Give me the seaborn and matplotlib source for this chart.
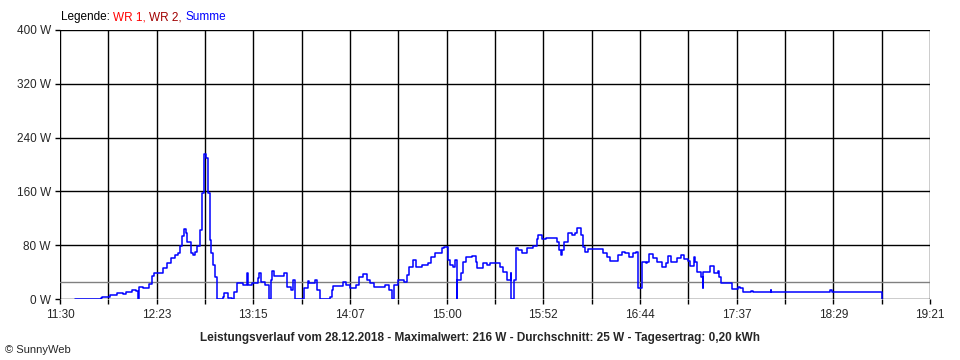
import matplotlib
matplotlib.use("Agg")
import matplotlib.pyplot as plt
import seaborn as sns
import numpy as np
import pandas as pd

# readings (time of day, watts)
times = ["11:38", "11:46", "11:52", "11:53", "11:57", "12:01", "12:04", "12:06", "12:09", "12:11",
         "12:12", "12:12", "12:13", "12:15", "12:18", "12:20", "12:21", "12:24", "12:26", "12:28",
         "12:30", "12:32", "12:34", "12:35", "12:36", "12:37", "12:38", "12:39", "12:41", "12:42",
         "12:43", "12:44", "12:46", "12:47", "12:47", "12:48", "12:48", "12:49", "12:50", "12:50",
         "12:51", "12:52", "12:53", "12:54", "12:55", "12:55", "12:57", "12:58", "12:59", "13:01",
         "13:03", "13:04", "13:06", "13:07", "13:09", "13:11", "13:12", "13:14", "13:16", "13:17",
         "13:18", "13:19", "13:21", "13:23", "13:24", "13:25", "13:26", "13:30", "13:31", "13:33",
         "13:35", "13:36", "13:37", "13:41", "13:42", "13:44", "13:45", "13:48", "13:49", "13:51",
         "13:55", "13:56", "13:57", "13:58", "14:00", "14:03", "14:05", "14:07", "14:10", "14:12",
         "14:14", "14:16", "14:18", "14:20", "14:26", "14:28", "14:30", "14:30", "14:31", "14:33",
         "14:36", "14:38", "14:39", "14:41", "14:43", "14:46", "14:49", "14:51", "14:53", "14:55",
         "14:57", "14:58", "15:00", "15:00", "15:01", "15:03", "15:04", "15:05", "15:05", "15:07",
         "15:08", "15:08", "15:10", "15:13", "15:15", "15:16", "15:18", "15:19", "15:21", "15:23",
         "15:27", "15:28", "15:30", "15:32", "15:34", "15:34", "15:35", "15:36", "15:37", "15:38",
         "15:40", "15:43", "15:46", "15:48", "15:49", "15:51", "15:53", "15:57", "15:59", "16:00",
         "16:01", "16:02", "16:03", "16:05", "16:07", "16:09", "16:10", "16:12", "16:13", "16:14",
         "16:16", "16:22", "16:24", "16:26", "16:28", "16:29", "16:32", "16:34", "16:36", "16:38",
         "16:40", "16:42", "16:43", "16:43", "16:45", "16:47", "16:48", "16:49", "16:51", "16:53",
         "16:56", "16:58", "16:59", "17:01", "17:03", "17:04", "17:06", "17:08", "17:10", "17:11",
         "17:13", "17:14", "17:15", "17:17", "17:18", "17:18", "17:20", "17:22", "17:24", "17:26",
         "17:27", "17:28", "17:32", "17:34", "17:34", "17:37", "17:38", "17:40", "17:44", "17:45",
         "17:49", "17:55", "17:55", "18:11", "18:27", "18:28", "18:43", "18:51", "18:55", "18:55"]
watts = [0, 0, 1, 3, 6, 9, 8, 10, 13, 12,
         7, 0, 18, 16, 22, 34, 39, 39, 46, 54,
         61, 65, 68, 79, 94, 104, 98, 85, 68, 65,
         70, 79, 103, 117, 157, 210, 216, 210, 187, 157,
         88, 68, 51, 33, 9, 0, 0, 3, 9, 1,
         0, 10, 24, 24, 21, 39, 21, 24, 24, 31,
         39, 25, 21, 0, 28, 42, 34, 34, 39, 18,
         13, 28, 0, 0, 16, 27, 24, 28, 13, 0,
         0, 3, 13, 19, 19, 25, 21, 16, 21, 33,
         37, 28, 24, 18, 21, 13, 6, 0, 21, 28,
         25, 36, 48, 58, 48, 51, 54, 62, 68, 68,
         76, 77, 70, 58, 51, 48, 58, 0, 28, 39,
         48, 55, 62, 64, 55, 46, 46, 54, 51, 54,
         54, 48, 40, 28, 39, 0, 0, 28, 76, 73,
         68, 76, 79, 89, 95, 89, 91, 91, 85, 73,
         65, 73, 85, 98, 95, 98, 106, 95, 77, 70,
         74, 74, 68, 62, 57, 57, 65, 70, 68, 62,
         68, 70, 33, 16, 55, 54, 55, 67, 61, 55,
         48, 54, 64, 55, 55, 61, 65, 60, 57, 49,
         62, 55, 40, 33, 16, 40, 40, 49, 39, 42,
         33, 24, 24, 21, 15, 18, 16, 10, 12, 10,
         11, 14, 10, 10, 14, 10, 10, 11, 10, 0]

tick_labels = ["11:30", "12:23", "13:15", "14:07", "15:00", "15:52", "16:44", "17:37", "18:29", "19:21"]
y_ticks = [0, 80, 160, 240, 320, 400]
average = 25
title = "Leistungsverlauf vom 28.12.2018 - Maximalwert: 216 W - Durchschnitt: 25 W - Tagesertrag: 0,20 kWh"


def to_min(s):
    h, m = s.split(":")
    return int(h) * 60 + int(m)


df = pd.DataFrame({"t": [to_min(s) for s in times], "w": watts})

sns.set_style("white")
plt.rcParams["font.family"] = ["Liberation Sans", "DejaVu Sans"]

fig = plt.figure(figsize=(9.6, 3.6), dpi=100)
ax = fig.add_axes([60 / 960, 1 - 299 / 360, 870 / 960, 269 / 360])

t0, t1 = to_min(tick_labels[0]), to_min(tick_labels[-1])
# grid: vertical every half label step, horizontal at labels
for x in np.linspace(t0, t1, 19):
    ax.axvline(x, color="black", lw=1, zorder=1)
for y in y_ticks:
    ax.axhline(y, color="black", lw=1, zorder=1)
ax.axhline(average, color="#808080", lw=1, zorder=2)

sns.lineplot(data=df, x="t", y="w", color="#0000ff", lw=1.1, estimator=None, sort=False,
             drawstyle="steps-post", ax=ax, zorder=3)

ax.set_xlim(t0, t1)
ax.set_ylim(0, 400)
ax.set_xticks(np.linspace(t0, t1, len(tick_labels)))
ax.set_xticklabels(tick_labels)
ax.set_xticks(np.linspace(t0, t1, 19), minor=True)
ax.set_yticks(y_ticks)
ax.set_yticklabels([f"{v} W" for v in y_ticks])
ax.tick_params(axis="x", which="both", length=3.5, width=1, color="black", pad=4, labelsize=8.5, bottom=True)
ax.tick_params(axis="y", length=3.5, width=1, color="black", pad=3, labelsize=8.5, left=True)
ax.set_xlabel("")
ax.set_ylabel("")
for side in ["top", "right", "left", "bottom"]:
    ax.spines[side].set_visible(False)

# legend line at the top
t_leg = fig.text(61 / 960, 1 - 17 / 360, "Legende: ", fontsize=8.5, color="black", va="center")
t_wr1 = ax.annotate("WR 1, ", xy=(1, 0), xycoords=t_leg, va="bottom", fontsize=8.5, color="#ff0000")
t_wr2 = ax.annotate("WR 2, ", xy=(1, 0), xycoords=t_wr1, va="bottom", fontsize=8.5, color="#a00000")
ax.annotate("Summe", xy=(1, 0), xycoords=t_wr2, va="bottom", fontsize=8.5, color="#0000ff")

fig.text(480 / 960, 1 - 338 / 360, title, ha="center", va="center", fontsize=8.5, fontweight="bold")
fig.text(5 / 960, 1 - 350 / 360, "© SunnyWeb", ha="left", va="center", fontsize=8)

fig.savefig("out.png", dpi=100)
